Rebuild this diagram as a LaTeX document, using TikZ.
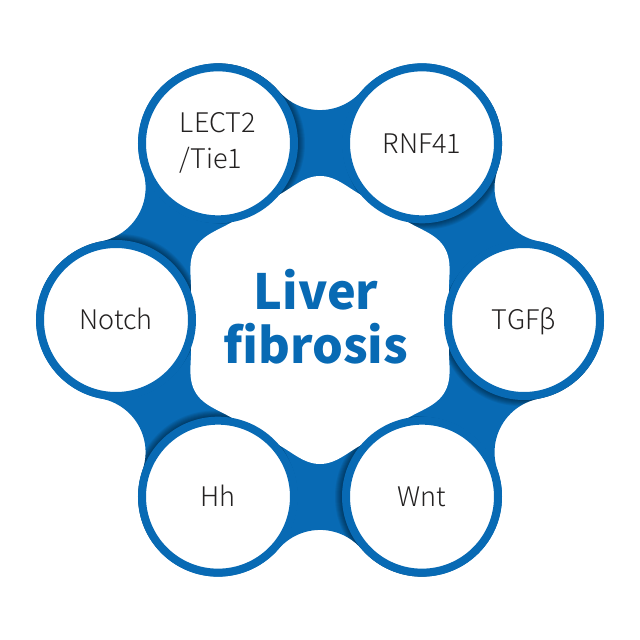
\documentclass[tikz,border=0pt]{standalone}
\usepackage{fontspec}
\newfontfamily\cjk{Noto Sans CJK SC}
\newfontfamily\cjklight{Noto Sans CJK SC Light}
\usetikzlibrary{calc}
\definecolor{fibblue}{RGB}{8,106,180}
\definecolor{labgray}{RGB}{35,33,33}
\begin{document}
\begin{tikzpicture}[x=1pt,y=1pt,
  ring/.style={circle, draw=fibblue, line width=8pt, fill=white, minimum size=152pt, inner sep=0pt},
  lab/.style={font=\cjklight\fontsize{27}{36}\selectfont, text=labgray},
  labone/.style={lab, text height=19.8pt, text depth=0pt},
  shadowlayer/.style={fill=black, opacity=0.065},
]
\fill[white] (-320,-320) rectangle (320,320);
\useasboundingbox (-320,-320) rectangle (320,320);
\def\blobpath{(0:204) ++(-79.2:80) \foreach \k in {0,...,5}{ arc[start angle={60*\k-79.2}, end angle={60*\k+79.2}, radius=80] arc[start angle={60*\k+259.2}, end angle={60*\k+160.8}, radius=54.7] } -- cycle}
% blue web
\fill[fibblue] \blobpath;
% shadows cast by the circles
\begin{scope}
  \clip \blobpath;
  \foreach \k in {0,...,5}{
    \foreach \i in {1,...,7}{
      \fill[shadowlayer] ($({60*\k}:204)+({60*\k-120}:\i)$) circle[radius=80];
    }
  }
\end{scope}
% white centre
\fill[white] plot[domain=0:359, samples=360, variable=\t] ({\t}:{130+14*((1-cos(6*\t))/2)^2}) -- cycle;
% circles
\node[ring] (tgf)   at (0:204)   {};
\node[ring] (rnf)   at (60:204)  {};
\node[ring] (lect)  at (120:204) {};
\node[ring] (notch) at (180:204) {};
\node[ring] (hh)    at (240:204) {};
\node[ring] (wnt)   at (300:204) {};
% labels
\node[labone] (tgfl)   at (tgf)   {TGFβ};
\node[labone] (rnfl)   at (rnf)   {RNF41};
\node[lab, align=left] (lectl)  at (lect)  {LECT2\\/Tie1};
\node[labone] (notchl) at (notch) {Notch};
\node[labone] (hhl)    at (hh)    {Hh};
\node[labone] (wntl)   at (wnt)   {Wnt};
\node[font=\cjk\bfseries\fontsize{48.5}{54}\selectfont, text=fibblue, align=center] (main) at (-4,3) {Liver\\fibrosis};
\end{tikzpicture}
\end{document}
